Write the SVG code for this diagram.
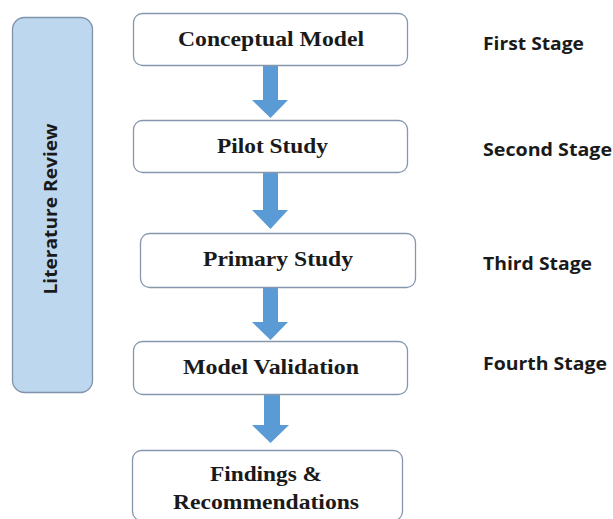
<svg xmlns="http://www.w3.org/2000/svg" width="613" height="519" viewBox="0 0 613 519">
<style>
.box{fill:#ffffff;stroke:#8596ad;stroke-width:1.3}
.side{fill:#bdd7ee;stroke:#8193ab;stroke-width:1.3}
.t{font-family:"Liberation Serif","Times New Roman",serif;font-weight:bold;font-size:21px;fill:#1a1a1a;text-anchor:middle}
.s{font-family:"Open Sans","Liberation Sans",sans-serif;font-weight:bold;font-size:17.5px;fill:#1a1a1a}
.arr{fill:#5b9bd5}
</style>
<rect width="613" height="519" fill="#ffffff"/>
<g id="literature-review">
<rect class="side" x="12.5" y="17.5" width="80" height="375" rx="12"/>
<text class="s" transform="translate(57,209) rotate(-90)" text-anchor="middle" textLength="171" lengthAdjust="spacingAndGlyphs">Literature Review</text>
</g>
<g id="connectors">
<polygon class="arr" points="263,66 278,66 278,100 288,100 270.5,118 252,100 263,100"/>
<polygon class="arr" points="263,173 278,173 278,210 288,210 270.5,229 252,210 263,210"/>
<polygon class="arr" points="263,288 278,288 278,322 288,322 270.5,340 252,322 263,322"/>
<polygon class="arr" points="264,394 280,394 280,425 289,425 270.5,443 252,425 264,425"/>
</g>
<g id="conceptual-model">
<rect class="box" x="133.5" y="13.5" width="274" height="52" rx="9"/>
<text class="t" x="271" y="46" textLength="186" lengthAdjust="spacingAndGlyphs">Conceptual Model</text>
</g>
<g id="pilot-study">
<rect class="box" x="133.5" y="120.5" width="274" height="52" rx="9"/>
<text class="t" x="272.5" y="153" textLength="111" lengthAdjust="spacingAndGlyphs">Pilot Study</text>
</g>
<g id="primary-study">
<rect class="box" x="140.5" y="233.5" width="275" height="54" rx="9"/>
<text class="t" x="278" y="266" textLength="150" lengthAdjust="spacingAndGlyphs">Primary Study</text>
</g>
<g id="model-validation">
<rect class="box" x="133.5" y="341.5" width="274" height="53" rx="9"/>
<text class="t" x="271" y="374" textLength="176" lengthAdjust="spacingAndGlyphs">Model Validation</text>
</g>
<g id="findings">
<rect class="box" x="132.5" y="450.5" width="270" height="70" rx="9"/>
<text class="t" x="266" y="481" textLength="112" lengthAdjust="spacingAndGlyphs">Findings &amp;</text>
<text class="t" x="266" y="509" textLength="186" lengthAdjust="spacingAndGlyphs">Recommendations</text>
</g>
<g id="stage-labels">
<text class="s" x="483" y="50" textLength="101" lengthAdjust="spacingAndGlyphs">First Stage</text>
<text class="s" x="483" y="156" textLength="129" lengthAdjust="spacingAndGlyphs">Second Stage</text>
<text class="s" x="483" y="270" textLength="109" lengthAdjust="spacingAndGlyphs">Third Stage</text>
<text class="s" x="483" y="370" textLength="124" lengthAdjust="spacingAndGlyphs">Fourth Stage</text>
</g>
</svg>
